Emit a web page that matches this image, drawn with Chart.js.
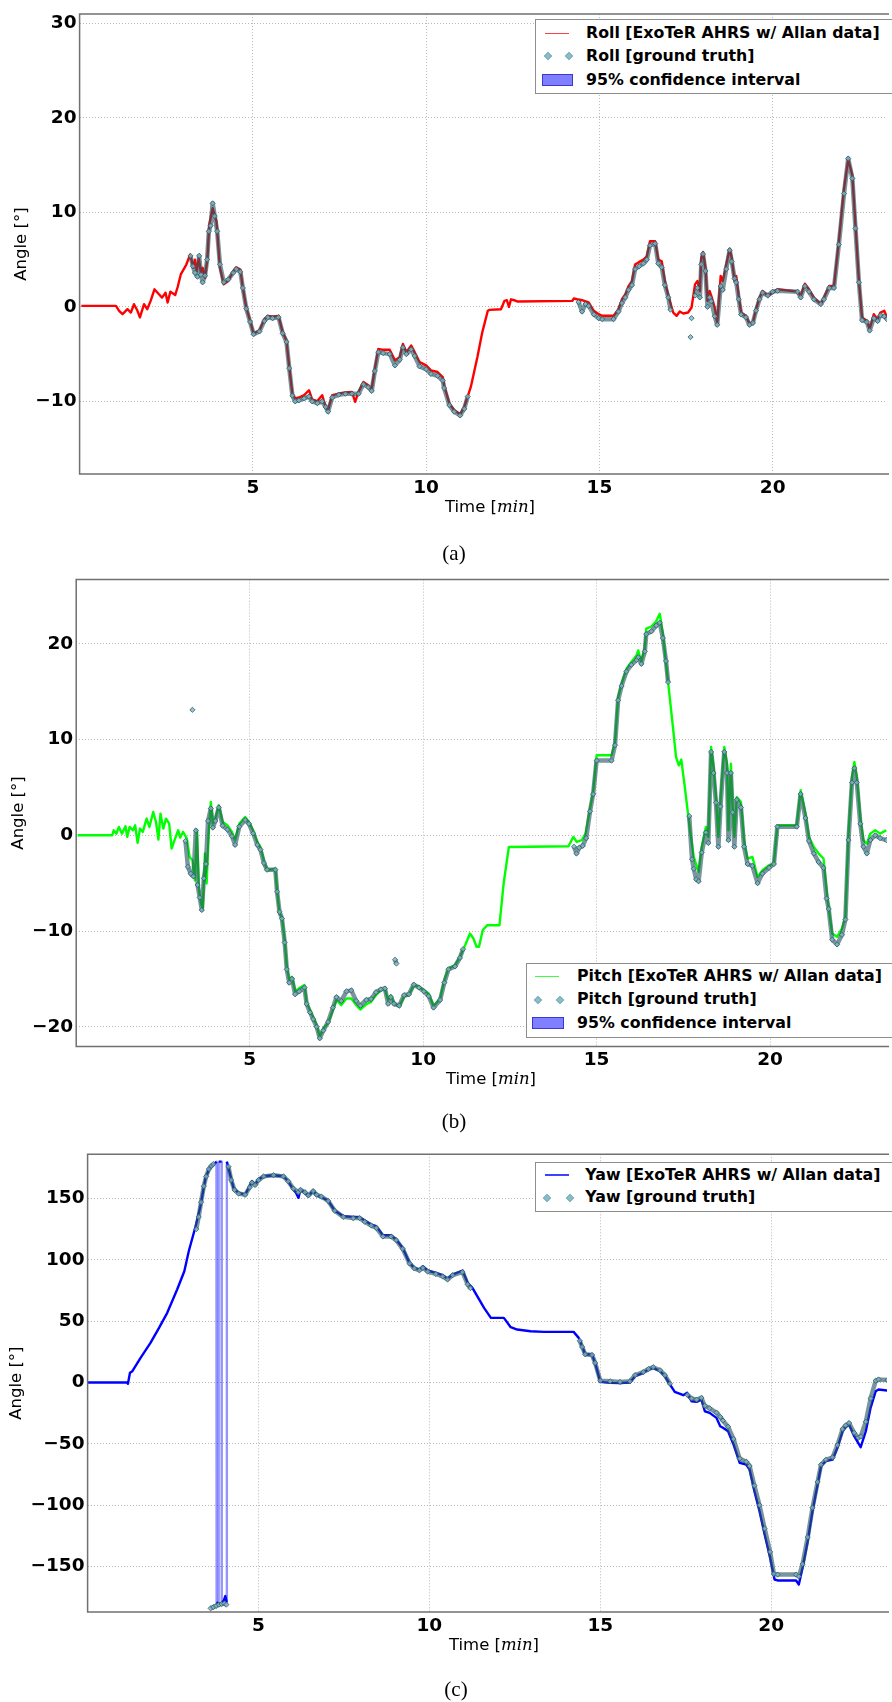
<!DOCTYPE html>
<html><head><meta charset="utf-8">
<script src="https://cdn.jsdelivr.net/npm/chart.js@4.4.0/dist/chart.umd.min.js"></script>
<style>
html,body{margin:0;padding:0;background:#fff}
body{width:892px;height:1702px;position:relative;overflow:hidden;font-family:'DejaVu Sans',sans-serif;color:#000}
canvas{position:absolute;left:0}
.lg{position:absolute;background:#fff;border:1.5px solid #8e8e8e;box-sizing:border-box}
.lt{position:absolute;font:bold 15.8px 'DejaVu Sans';line-height:18px;white-space:nowrap}
.ln{position:absolute;height:1.5px}
.dm{position:absolute;width:4px;height:4px;transform:rotate(45deg);background:#8bbcc8;border:1px solid #7fb0bc}
.rc{position:absolute;background:rgba(0,0,255,0.5);border:1px solid rgba(0,0,180,0.55);box-sizing:border-box}
.xt{position:absolute;font:16.5px 'DejaVu Sans';line-height:20px;white-space:nowrap;transform:translateX(-50%)}
.xt i{font-family:'DejaVu Serif',serif;font-size:16.5px}
.cap{position:absolute;font:21px 'Liberation Serif','DejaVu Serif',serif;line-height:24px;transform:translateX(-50%)}
</style>
</head><body>
<canvas id="ca" width="892" height="530" style="top:0"></canvas>
<canvas id="cb" width="892" height="530" style="top:560px"></canvas>
<canvas id="cc" width="892" height="520" style="top:1140px"></canvas>
<script>
// ---------- data (time in min, angle in degrees) ----------
const xTicks = [5, 10, 15, 20];
const rollYTicks = [-10, 0, 10, 20, 30];
const pitchYTicks = [-20, -10, 0, 10, 20];
const yawYTicks = [-150, -100, -50, 0, 50, 100, 150];

const rollEst = [[0.05,0.1],[1.05,0.1],[1.14,-0.42],[1.24,-0.77],[1.38,-0.25],[1.48,-0.6],[1.57,0.28],[1.67,-0.42],[1.74,-1.12],[1.86,0.28],[1.95,-0.25],[2.05,0.63],[2.16,1.86],[2.29,1.33],[2.38,0.98],[2.48,1.5],[2.54,0.46],[2.62,1.61],[2.76,1.26],[2.83,2.1],[2.92,3.43],[3.08,4.48],[3.19,5.53],[3.29,4.13],[3.33,5.0],[3.38,3.78],[3.44,5.18],[3.5,3.6],[3.55,4.13],[3.62,3.08],[3.69,5.18],[3.74,8.69],[3.84,10.44],[3.95,9.04],[4.05,4.13],[4.16,2.38],[4.29,2.73],[4.43,3.78],[4.52,4.2],[4.64,3.96],[4.71,2.03],[4.81,-0.07],[4.92,-1.47],[5.02,-2.8],[5.19,-2.52],[5.33,-1.3],[5.43,-0.95],[5.57,-1.02],[5.74,-0.95],[5.86,-2.7],[5.97,-3.57],[6.05,-6.37],[6.14,-9.18],[6.22,-9.7],[6.33,-9.6],[6.48,-9.35],[6.62,-8.83],[6.71,-9.8],[6.86,-9.98],[7.0,-9.35],[7.1,-10.58],[7.17,-10.93],[7.29,-9.35],[7.48,-9.18],[7.67,-9.07],[7.86,-9.0],[7.95,-10.05],[8.05,-9.0],[8.19,-7.95],[8.33,-8.3],[8.43,-8.65],[8.52,-6.55],[8.62,-4.45],[8.76,-4.55],[8.95,-4.55],[9.1,-5.67],[9.24,-5.32],[9.33,-3.92],[9.43,-4.8],[9.57,-4.1],[9.67,-4.8],[9.81,-5.85],[10.0,-6.2],[10.14,-6.73],[10.33,-6.9],[10.48,-7.43],[10.52,-8.3],[10.67,-10.23],[10.81,-10.93],[10.98,-11.38],[11.1,-10.58],[11.29,-8.48],[11.48,-5.32],[11.62,-2.7],[11.78,-0.42],[11.83,-0.32],[12.16,-0.25],[12.26,0.63],[12.33,0.7],[12.39,0.0],[12.45,0.8],[12.54,0.7],[12.64,0.56],[14.22,0.63],[14.26,0.88],[14.36,0.8],[14.5,0.7],[14.69,0.46],[14.84,-0.42],[14.98,-0.77],[15.08,-0.95],[15.41,-0.95],[15.55,-0.25],[15.65,0.8],[15.75,1.33],[15.84,2.2],[15.94,2.73],[16.03,4.48],[16.15,4.76],[16.27,5.0],[16.37,5.36],[16.46,6.94],[16.61,6.94],[16.7,5.0],[16.8,4.83],[16.89,2.73],[16.99,1.16],[17.13,-0.6],[17.23,-0.95],[17.32,-0.49],[17.42,-0.7],[17.56,-0.6],[17.66,-0.07],[17.76,2.38],[17.83,2.73],[17.9,1.68],[17.94,5.18],[17.99,5.81],[18.06,4.13],[18.12,0.63],[18.18,1.68],[18.23,1.16],[18.33,-0.07],[18.4,-1.75],[18.5,3.26],[18.56,2.73],[18.66,4.48],[18.76,6.16],[18.82,5.18],[18.9,2.73],[18.95,3.26],[19.02,1.16],[19.09,-0.6],[19.23,-0.95],[19.33,-1.75],[19.43,-1.65],[19.52,-0.25],[19.62,0.98],[19.71,1.68],[19.86,1.16],[20.0,1.5],[20.14,1.86],[20.72,1.61],[20.81,1.16],[20.93,2.45],[21.05,1.86],[21.19,0.98],[21.39,0.28],[21.48,0.98],[21.63,2.2],[21.77,2.2],[21.91,6.94],[22.06,12.54],[22.18,15.62],[22.3,13.94],[22.39,8.69],[22.49,2.73],[22.58,-1.12],[22.72,-1.47],[22.8,-2.35],[22.92,-0.77],[23.03,-1.3],[23.11,-0.6],[23.22,-0.42],[23.3,-1.12]];

const rollTruth = [[3.2,5.4],[3.27,4.3],[3.33,3.6],[3.4,3.2],[3.45,5.4],[3.5,3.4],[3.55,2.6],[3.62,3.3],[3.68,5.0],[3.73,8.0],[3.78,8.6],[3.84,10.96],[3.9,9.6],[3.97,8.0],[4.05,4.5],[4.16,2.6],[4.29,2.9],[4.43,3.6],[4.52,4.0],[4.64,3.7],[4.71,2.0],[4.81,-0.2],[4.92,-1.6],[5.02,-2.9],[5.19,-2.6],[5.33,-1.5],[5.43,-1.1],[5.57,-1.2],[5.74,-1.1],[5.86,-2.8],[5.97,-3.7],[6.05,-6.5],[6.14,-9.4],[6.22,-10.0],[6.33,-9.9],[6.48,-9.7],[6.62,-9.5],[6.71,-10.0],[6.86,-10.2],[7.0,-10.0],[7.1,-10.6],[7.17,-11.1],[7.29,-9.6],[7.48,-9.3],[7.67,-9.2],[7.86,-9.2],[8.05,-9.2],[8.19,-8.2],[8.33,-8.5],[8.43,-8.9],[8.52,-6.8],[8.62,-4.8],[8.76,-4.9],[8.95,-5.0],[9.1,-6.2],[9.24,-5.6],[9.33,-4.3],[9.43,-5.0],[9.57,-4.5],[9.67,-5.2],[9.81,-6.3],[10.0,-6.6],[10.14,-7.1],[10.33,-7.3],[10.48,-7.8],[10.52,-8.6],[10.67,-10.4],[10.81,-11.1],[10.98,-11.5],[11.1,-10.8],[11.2,-9.5],[12,null],[14.4,0.5],[14.5,-0.5],[14.6,0.3],[14.69,0.1],[14.84,-0.8],[14.98,-1.2],[15.08,-1.3],[15.41,-1.3],[15.55,-0.5],[15.65,0.4],[15.75,1.0],[15.84,1.8],[15.94,2.3],[16.03,4.0],[16.15,4.3],[16.27,4.6],[16.37,5.0],[16.46,6.5],[16.61,6.7],[16.7,4.6],[16.8,4.2],[16.89,2.3],[16.99,1.0],[17.05,-0.3],[17.3,null],[17.63,-3.2],[17.64,null],[17.66,-1.2],[17.7,null],[17.76,1.2],[17.83,2.0],[17.9,1.0],[17.94,4.5],[17.99,5.6],[18.06,3.8],[18.12,0.0],[18.18,1.0],[18.23,0.6],[18.33,-1.0],[18.4,-1.9],[18.5,2.2],[18.56,1.8],[18.66,4.0],[18.76,6.0],[18.82,4.8],[18.9,3.0],[18.95,2.6],[19.02,0.8],[19.09,-0.8],[19.23,-1.1],[19.33,-1.9],[19.43,-1.7],[19.52,-0.4],[19.62,0.8],[19.71,1.5],[19.86,1.2],[20.0,1.6],[20.14,1.7],[20.72,1.6],[20.81,1.0],[20.93,2.2],[21.05,1.6],[21.19,0.8],[21.39,0.3],[21.48,0.8],[21.63,2.0],[21.77,2.0],[21.91,6.6],[22.06,12.0],[22.18,15.7],[22.3,13.6],[22.39,8.3],[22.49,2.6],[22.58,-1.4],[22.72,-1.6],[22.8,-2.5],[22.92,-1.2],[23.03,-1.5],[23.11,-0.9],[23.22,-1.0],[23.3,-1.3]];

const pitchEst = [[0.04,0],[1.04,0],[1.08,0.52],[1.16,0.17],[1.23,0.87],[1.32,0.17],[1.42,0.94],[1.47,-0.17],[1.54,0.87],[1.64,0.52],[1.7,1.04],[1.77,-0.8],[1.84,0.7],[1.92,0.35],[2.03,1.74],[2.11,0.87],[2.22,2.43],[2.3,1.39],[2.37,-0.45],[2.43,2.26],[2.51,0.7],[2.59,1.74],[2.68,1.22],[2.75,-1.39],[2.84,-0.45],[2.94,0.52],[3.0,-0.24],[3.08,0.35],[3.19,-0.35],[3.27,-2.26],[3.35,-2.61],[3.42,-4.7],[3.48,0.52],[3.54,-5.74],[3.6,-7.13],[3.65,-7.65],[3.71,-1.91],[3.76,-5.04],[3.82,0.17],[3.88,3.48],[3.94,1.22],[4.01,1.74],[4.11,3.13],[4.22,1.39],[4.36,1.04],[4.49,0.35],[4.58,-0.52],[4.7,1.22],[4.87,1.91],[4.98,1.39],[5.1,0.52],[5.22,-0.7],[5.31,-1.22],[5.41,-2.61],[5.5,-3.65],[5.74,-3.48],[5.79,-5.74],[5.86,-8.17],[5.93,-8.52],[6.01,-10.96],[6.07,-13.7],[6.14,-15.1],[6.22,-14.78],[6.31,-16.3],[6.43,-15.96],[6.58,-15.65],[6.64,-17.4],[6.74,-18.26],[6.83,-18.96],[6.93,-19.8],[7.02,-21.04],[7.12,-20.17],[7.26,-19.65],[7.4,-18.26],[7.5,-17.2],[7.64,-17.74],[7.79,-17.04],[7.93,-17.04],[8.07,-17.74],[8.19,-18.2],[8.36,-17.65],[8.5,-17.4],[8.64,-16.7],[8.78,-16.17],[8.9,-16.1],[8.99,-17.2],[9.07,-16.7],[9.16,-17.57],[9.31,-17.9],[9.45,-16.87],[9.59,-16.7],[9.73,-15.65],[9.88,-15.83],[10.02,-16.17],[10.16,-16.52],[10.3,-17.84],[10.49,-17.04],[10.61,-15.13],[10.73,-13.9],[10.92,-13.57],[11.06,-12.7],[11.21,-11.48],[11.35,-10.26],[11.45,-10.78],[11.54,-11.65],[11.61,-11.65],[11.72,-9.9],[11.85,-9.39],[12.2,-9.39],[12.32,-5.04],[12.47,-1.22],[14.19,-1.15],[14.33,-0.17],[14.43,-0.7],[14.57,-0.52],[14.68,0.17],[14.81,2.78],[14.9,4.52],[15.0,8.35],[15.43,8.35],[15.53,9.74],[15.62,14.43],[15.72,15.83],[15.86,17.39],[16.0,18.09],[16.15,18.78],[16.2,19.3],[16.29,18.09],[16.39,19.65],[16.43,21.57],[16.58,21.8],[16.72,22.37],[16.82,23.13],[16.91,21.04],[17.06,16.0],[17.2,11.3],[17.29,8.17],[17.37,7.3],[17.44,7.9],[17.53,5.39],[17.68,0.87],[17.8,-2.26],[17.94,-3.83],[18.03,-1.22],[18.15,0.87],[18.22,-0.17],[18.3,9.22],[18.37,7.13],[18.44,4.0],[18.51,-0.17],[18.57,3.65],[18.68,9.22],[18.76,7.48],[18.8,0.52],[18.87,7.48],[18.92,2.96],[18.97,-0.17],[19.04,4.0],[19.16,3.48],[19.25,-0.52],[19.35,-2.43],[19.49,-2.26],[19.64,-4.35],[19.78,-3.65],[19.97,-3.13],[20.11,-2.96],[20.21,1.04],[20.77,1.04],[20.88,4.7],[21.02,2.26],[21.12,-0.17],[21.26,-1.22],[21.4,-1.91],[21.54,-2.43],[21.63,-5.74],[21.69,-7.65],[21.79,-10.26],[21.93,-10.61],[22.07,-9.74],[22.17,-8.52],[22.26,0.17],[22.36,6.09],[22.43,7.65],[22.5,6.09],[22.6,1.91],[22.69,-0.52],[22.79,-0.87],[22.89,0.17],[23.03,0.52],[23.17,0.17],[23.35,0.52]];

const pitchTruth = [[3.15,-0.6],[3.22,-3.3],[3.3,-4.0],[3.38,-4.3],[3.45,0.5],[3.5,-5.2],[3.56,-6.5],[3.62,-7.8],[3.68,-4.5],[3.74,-3.0],[3.8,1.5],[3.88,2.8],[3.94,0.8],[4.01,1.5],[4.11,2.9],[4.22,1.0],[4.36,0.6],[4.49,-0.1],[4.58,-1.0],[4.7,0.9],[4.87,1.6],[4.98,1.2],[5.1,0.2],[5.22,-1.0],[5.31,-1.5],[5.41,-2.9],[5.5,-3.6],[5.74,-3.6],[5.79,-5.9],[5.86,-8.0],[5.93,-8.7],[6.01,-11.2],[6.07,-14.0],[6.14,-15.4],[6.22,-15.0],[6.31,-16.6],[6.43,-16.3],[6.58,-15.9],[6.64,-17.6],[6.74,-18.5],[6.83,-19.2],[6.93,-20.0],[7.02,-21.2],[7.12,-20.4],[7.26,-19.5],[7.4,-18.0],[7.5,-16.9],[7.64,-17.3],[7.79,-16.3],[7.93,-16.2],[8.07,-17.3],[8.19,-17.8],[8.36,-17.2],[8.5,-17.1],[8.64,-16.4],[8.78,-16.1],[8.9,-16.0],[8.99,-17.6],[9.07,-16.9],[9.16,-17.6],[9.31,-17.8],[9.45,-16.7],[9.59,-16.6],[9.73,-15.6],[9.88,-15.9],[10.02,-16.3],[10.16,-16.8],[10.3,-18.0],[10.49,-17.2],[10.61,-15.4],[10.73,-14.0],[10.92,-13.7],[11.06,-12.8],[11.15,-11.9],[11.5,null],[3.35,13.1],[3.36,null],[9.19,-13.0],[9.23,-13.4],[9.3,null],[14.35,-1.2],[14.42,-1.9],[14.5,-1.3],[14.6,-1.1],[14.7,-0.3],[14.81,2.5],[14.9,4.3],[15.0,7.8],[15.43,7.8],[15.53,9.4],[15.62,14.1],[15.72,15.6],[15.86,17.1],[16.0,17.8],[16.15,18.3],[16.2,18.6],[16.29,17.9],[16.39,19.2],[16.43,21.0],[16.58,21.3],[16.72,21.9],[16.82,22.2],[16.91,20.6],[17.0,18.2],[17.06,16.0],[17.3,null],[17.67,2.0],[17.75,-2.5],[17.8,-3.5],[17.87,-4.6],[17.94,-4.8],[18.03,-1.8],[18.15,0.3],[18.22,-0.8],[18.3,8.7],[18.37,6.5],[18.44,3.4],[18.51,-1.2],[18.57,3.0],[18.68,8.7],[18.76,6.5],[18.8,-0.5],[18.87,6.5],[18.92,2.4],[18.97,-1.2],[19.04,3.7],[19.16,2.9],[19.25,-1.2],[19.35,-3.0],[19.49,-3.2],[19.64,-5.0],[19.78,-4.0],[19.97,-3.4],[20.11,-3.0],[20.21,0.9],[20.77,0.9],[20.88,4.3],[21.02,1.8],[21.12,-0.6],[21.26,-1.9],[21.4,-2.8],[21.54,-3.4],[21.63,-6.6],[21.69,-7.7],[21.79,-10.9],[21.93,-11.4],[22.07,-10.4],[22.17,-8.8],[22.26,-0.5],[22.36,5.5],[22.43,7.0],[22.5,5.5],[22.6,1.2],[22.69,-1.2],[22.79,-1.9],[22.89,-0.5],[23.03,0.0],[23.17,-0.3],[23.35,-0.5]];

const yawEst = [[0,0],[1.15,0],[1.18,-1],[1.24,7.9],[1.31,9.2],[1.55,20.1],[1.84,32.3],[2.09,44.5],[2.33,56.8],[2.62,75.8],[2.83,90.7],[2.96,107],[3.16,127.4],[3.3,143.7],[3.45,166.8],[3.57,174.9],[3.74,179],[3.77,180],[3.775,-180],[3.83,-179],[3.835,180],[3.92,180],[3.925,-179],[3.98,-178],[4.03,-174],[4.07,-179],[4.075,180],[4.17,169.5],[4.27,158.6],[4.42,154.5],[4.61,153.2],[4.74,160],[4.81,164],[4.9,161.3],[5.0,165.4],[5.15,168.1],[5.44,168.9],[5.73,168.1],[5.87,164],[6.02,157.3],[6.1,154.5],[6.17,150.5],[6.23,157.3],[6.36,154.5],[6.46,151.8],[6.6,156.4],[6.7,152.6],[6.84,151],[7.04,148.3],[7.23,140.1],[7.48,135.5],[7.77,135],[7.96,134.7],[8.11,132],[8.3,128.7],[8.45,127.4],[8.64,120],[8.88,120],[9.03,116.5],[9.22,109.7],[9.42,97.5],[9.56,93.4],[9.71,92.1],[9.81,94.8],[9.95,91.3],[10.19,89.4],[10.39,87.5],[10.53,84.7],[10.68,88],[10.97,91.3],[11.12,81.2],[11.26,77.1],[11.6,60.8],[11.8,52.7],[12.18,52.7],[12.38,45.1],[12.57,43.2],[12.96,41.8],[13.35,41.3],[14.22,41.3],[14.37,36.4],[14.47,29.6],[14.56,22.8],[14.76,22.8],[14.85,16],[15.0,0.5],[15.29,-0.3],[15.58,-0.5],[15.87,0],[16.02,5.2],[16.26,7.9],[16.41,10.6],[16.55,12],[16.75,9.2],[16.89,5.2],[17.04,-1.6],[17.18,-7.6],[17.43,-10.3],[17.54,-8.4],[17.67,-15.2],[17.82,-15.8],[17.96,-13.9],[18.06,-23.4],[18.2,-24.7],[18.4,-28.8],[18.51,-35.6],[18.59,-36.9],[18.74,-39.7],[18.9,-50.5],[19.08,-65.5],[19.27,-66.8],[19.37,-70.9],[19.51,-88.5],[19.66,-104.8],[19.81,-123.8],[19.97,-142.8],[20.1,-160.5],[20.19,-161.3],[20.73,-161.3],[20.81,-164.6],[20.92,-151],[21.07,-129.3],[21.21,-104.8],[21.36,-83.1],[21.46,-68.2],[21.6,-64.1],[21.8,-62.7],[21.94,-53.2],[22.09,-39.7],[22.18,-36.4],[22.28,-34.2],[22.43,-43.7],[22.62,-52.7],[22.77,-39.7],[22.91,-20.6],[23.06,-7.1],[23.14,-5.7],[23.4,-6.5]];

const yawTruth = [[3.18,125],[3.25,135],[3.32,147],[3.4,160],[3.47,168],[3.55,174],[3.62,176.5],[3.68,178],[3.7,null],[3.6,-184],[3.68,-183],[3.76,-182],[3.84,-181],[3.92,-180.5],[4.0,-180],[4.06,-181],[4.1,null],[4.12,176],[4.2,165],[4.3,157],[4.42,154],[4.61,153],[4.74,159],[4.81,163],[4.9,161],[5.0,165],[5.15,168],[5.44,169],[5.73,168],[5.87,164],[6.02,158],[6.17,155],[6.23,157],[6.36,155],[6.46,152.5],[6.6,156],[6.7,153],[6.84,151.5],[7.04,148],[7.23,140],[7.48,135],[7.77,134],[7.96,134],[8.11,131],[8.3,128],[8.45,126],[8.64,119],[8.88,119],[9.03,116],[9.22,109],[9.42,97],[9.56,93],[9.71,91.5],[9.81,93.5],[9.95,90.5],[10.19,88.5],[10.39,86.5],[10.53,84],[10.68,87.5],[10.97,90],[11.12,80],[11.2,77],[12,null],[14.4,34],[14.47,29],[14.56,23],[14.76,22.5],[14.85,16],[15.0,1.5],[15.29,1],[15.58,0.5],[15.87,1],[16.02,6],[16.26,8.5],[16.41,11],[16.55,12.5],[16.75,10],[16.89,6],[17.04,-1],[17.3,null],[17.55,-10],[17.67,-13],[17.82,-14],[17.96,-12.5],[18.06,-19],[18.2,-21],[18.4,-24.5],[18.51,-28],[18.59,-31],[18.74,-36],[18.9,-46],[19.08,-62],[19.27,-64.5],[19.37,-68],[19.51,-84],[19.66,-100],[19.81,-119],[19.97,-138],[20.08,-156],[20.19,-156.5],[20.73,-156.5],[20.81,-158],[20.92,-148],[21.07,-126],[21.21,-102],[21.36,-81],[21.46,-67],[21.6,-63],[21.8,-61],[21.94,-51],[22.09,-38],[22.18,-35],[22.28,-33],[22.43,-41],[22.55,-45],[22.62,-44],[22.77,-32],[22.91,-13],[23.06,1.5],[23.14,2.5],[23.4,2]];

// ---------- chart builder ----------
const tickFont = {family:'DejaVu Sans', weight:'bold', size:18.5};
const frame = {
  id:'frame',
  afterDraw(chart){
    const {ctx, chartArea:a} = chart;
    ctx.save(); ctx.strokeStyle='#707070'; ctx.lineWidth=1.5;
    ctx.beginPath();
    ctx.moveTo(a.right+2, a.top); ctx.lineTo(a.left, a.top); ctx.lineTo(a.left, a.bottom); ctx.lineTo(a.right+2, a.bottom);
    ctx.stroke(); ctx.restore();
  }
};
function toXY(arr){ return arr.map(p => ({x:p[0], y:p[1]})); }
function minusLabel(v){ return String(v).replace('-', '\u2212'); }
function makeChart(id, o){
  return new Chart(document.getElementById(id), {
    type:'line',
    data:{datasets:[
      {data:toXY(o.truth), showLine:true, spanGaps:false, order:1,
       borderColor:'rgba(38,84,98,0.62)', borderWidth:4.5,
       pointStyle:'rectRot', pointRadius:2.6, pointBackgroundColor:'rgba(130,180,194,0.8)',
       pointBorderColor:'rgba(45,92,106,0.8)', pointBorderWidth:1},
      {data:toXY(o.est), spanGaps:false, order:2, borderColor:o.color, borderWidth:2.4,
       pointRadius:0, tension:0, segment:o.segment || {}}
    ]},
    options:{
      responsive:false, animation:false, devicePixelRatio:1,
      layout:{padding:{top:o.top, left:0, right:0, bottom:0}},
      plugins:{legend:{display:false}, tooltip:{enabled:false}},
      elements:{line:{borderJoinStyle:'round'}},
      scales:{
        x:{type:'linear', min:0, max:o.xmax,
           afterBuildTicks: s => { s.ticks = xTicks.map(v => ({value:v})); },
           afterFit: s => { s.height = o.xh; },
           grid:{color:'#b8b8b8', lineWidth:1, drawTicks:false},
           border:{display:false, dash:[1,2]},
           ticks:{font:tickFont, color:'#000', padding:3, maxRotation:0, autoSkip:false, callback:minusLabel}},
        y:{type:'linear', min:o.ymin, max:o.ymax,
           afterBuildTicks: s => { s.ticks = o.yTicks.map(v => ({value:v})); },
           afterFit: s => { s.width = o.left; },
           grid:{color:'#b8b8b8', lineWidth:1, drawTicks:false},
           border:{display:false, dash:[1,2]},
           title:{display:true, text:'Angle [°]', color:'#000', font:{family:'DejaVu Sans', size:16.5}, padding:{top:o.tpad, bottom:0}},
           ticks:{font:tickFont, color:'#000', padding:3, autoSkip:false, callback:minusLabel}}
      }
    },
    plugins:[frame]
  });
}

makeChart('ca', {truth:rollTruth, est:rollEst, color:'#ff0000', top:11.8, xh:56, left:79.6, xmax:23.3, ymin:-17.7, ymax:31.0, yTicks:rollYTicks, tpad:11.5});
makeChart('cb', {truth:pitchTruth, est:pitchEst, color:'#00ff00', top:19.6, xh:43.6, left:76.2, xmax:23.37, ymin:-22.05, ymax:26.7, yTicks:pitchYTicks, tpad:8.8});
makeChart('cc', {truth:yawTruth, est:yawEst, color:'#0000ff', top:14.3, xh:48, left:87.6, xmax:23.39, ymin:-187, ymax:186, yTicks:yawYTicks, tpad:7,
  segment:{borderColor: c => Math.abs(c.p1.parsed.y - c.p0.parsed.y) > 250 ? 'rgba(0,0,255,0.42)' : undefined}});
</script>

<!-- legend (a) -->
<div class="lg" style="left:535px;top:19.3px;width:400px;height:75px"></div>
<div class="ln" style="left:545px;top:32.5px;width:24px;background:#ff4040"></div>
<div class="lt" style="left:586px;top:24px">Roll [ExoTeR AHRS w/ Allan data]</div>
<div class="dm" style="left:544.5px;top:53px"></div><div class="dm" style="left:566px;top:53px"></div>
<div class="lt" style="left:586px;top:46.5px">Roll [ground truth]</div>
<div class="rc" style="left:541.7px;top:74px;width:31px;height:12px"></div>
<div class="lt" style="left:586px;top:71px">95% confidence interval</div>
<div class="xt" style="left:490px;top:497px">Time [<i>min</i>]</div>
<div class="cap" style="left:454px;top:541px">(a)</div>

<!-- legend (b) -->
<div class="lg" style="left:525.5px;top:963.3px;width:400px;height:75px"></div>
<div class="ln" style="left:535.3px;top:975.5px;width:24px;background:#40ff40"></div>
<div class="lt" style="left:577px;top:967px">Pitch [ExoTeR AHRS w/ Allan data]</div>
<div class="dm" style="left:535px;top:997px"></div><div class="dm" style="left:557px;top:997px"></div>
<div class="lt" style="left:577px;top:990px">Pitch [ground truth]</div>
<div class="rc" style="left:532px;top:1017.3px;width:31.7px;height:11.7px"></div>
<div class="lt" style="left:577px;top:1014.3px">95% confidence interval</div>
<div class="xt" style="left:491px;top:1069px">Time [<i>min</i>]</div>
<div class="cap" style="left:454px;top:1109px">(b)</div>

<!-- legend (c) -->
<div class="lg" style="left:535.3px;top:1162.3px;width:400px;height:50px"></div>
<div class="ln" style="left:545.3px;top:1174px;width:23.4px;background:#4040ff"></div>
<div class="lt" style="left:585.3px;top:1165.7px">Yaw [ExoTeR AHRS w/ Allan data]</div>
<div class="dm" style="left:544px;top:1195px"></div><div class="dm" style="left:566.5px;top:1195px"></div>
<div class="lt" style="left:585.3px;top:1188.3px">Yaw [ground truth]</div>
<div class="xt" style="left:494px;top:1634.5px">Time [<i>min</i>]</div>
<div class="cap" style="left:456px;top:1676.5px">(c)</div>
</body></html>
